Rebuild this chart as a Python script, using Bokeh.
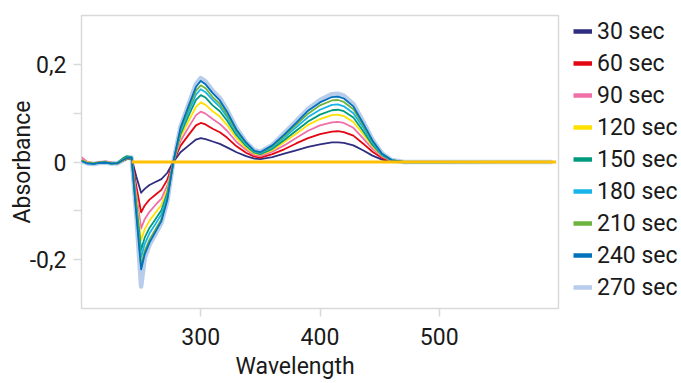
from bokeh.plotting import figure
from bokeh.layouts import row
from bokeh.models import (ColumnDataSource, Legend, LegendItem, FixedTicker,
                          Range1d, Title)
from bokeh.embed import file_html
from bokeh.resources import INLINE

# ---------------- data ----------------
wavelength = [200, 205, 210, 215, 220, 225, 230, 235, 238, 242,
              246, 250, 253, 257, 262, 267, 272, 277,
              283, 290, 296, 300, 304, 310, 316, 322, 330, 338, 345,
              350, 360, 370, 380, 390, 400, 410, 415, 420, 428, 436, 444, 452, 460, 470,
              500, 550, 595]

s30 = [0.004, -0.001, -0.003, -0.002, 0.000, -0.002, -0.003, 0.003, 0.006, 0.007,
       -0.030, -0.063, -0.055, -0.047, -0.041, -0.035, -0.022, 0.000,
       0.020, 0.034, 0.046, 0.049, 0.047, 0.042, 0.037, 0.030, 0.020, 0.012, 0.007,
       0.006, 0.010, 0.017, 0.024, 0.031, 0.036, 0.040, 0.040, 0.039, 0.034, 0.024, 0.013, 0.005, 0.001, 0.000,
       0.000, 0.000, 0.000]
s60 = [0.003, -0.002, -0.003, -0.001, 0.000, -0.002, -0.002, 0.003, 0.007, 0.008,
       -0.050, -0.103, -0.089, -0.077, -0.067, -0.057, -0.036, 0.000,
       0.033, 0.056, 0.075, 0.080, 0.077, 0.068, 0.061, 0.050, 0.032, 0.019, 0.011,
       0.009, 0.016, 0.026, 0.038, 0.049, 0.057, 0.062, 0.063, 0.061, 0.054, 0.038, 0.021, 0.008, 0.002, 0.000,
       0.000, 0.000, 0.000]
s90 = [0.010, 0.000, -0.002, -0.001, 0.001, -0.001, -0.002, 0.004, 0.008, 0.009,
       -0.066, -0.136, -0.117, -0.102, -0.088, -0.075, -0.048, 0.000,
       0.043, 0.072, 0.096, 0.103, 0.099, 0.088, 0.078, 0.064, 0.041, 0.025, 0.014,
       0.012, 0.021, 0.034, 0.049, 0.064, 0.075, 0.081, 0.082, 0.080, 0.070, 0.049, 0.027, 0.011, 0.002, 0.000,
       0.000, 0.000, 0.000]
s120 = [0.004, -0.001, -0.002, -0.002, 0.000, -0.002, -0.003, 0.003, 0.007, 0.008,
        -0.078, -0.160, -0.138, -0.120, -0.104, -0.088, -0.056, 0.000,
        0.051, 0.085, 0.113, 0.122, 0.117, 0.104, 0.093, 0.076, 0.049, 0.029, 0.017,
        0.015, 0.024, 0.041, 0.058, 0.076, 0.088, 0.096, 0.097, 0.094, 0.082, 0.058, 0.032, 0.013, 0.003, 0.000,
        0.000, 0.000, 0.000]
s150 = [0.003, -0.002, -0.003, -0.002, -0.001, -0.004, -0.002, 0.008, 0.012, 0.010,
        -0.088, -0.180, -0.155, -0.135, -0.117, -0.099, -0.063, 0.000,
        0.057, 0.096, 0.127, 0.137, 0.132, 0.116, 0.104, 0.085, 0.055, 0.033, 0.019,
        0.016, 0.027, 0.045, 0.064, 0.083, 0.097, 0.106, 0.107, 0.104, 0.091, 0.064, 0.035, 0.014, 0.003, 0.000,
        0.000, 0.000, 0.000]
s180 = [0.002, -0.003, -0.004, -0.002, -0.001, -0.003, -0.002, 0.005, 0.009, 0.009,
        -0.095, -0.195, -0.168, -0.146, -0.127, -0.107, -0.068, 0.000,
        0.062, 0.104, 0.138, 0.149, 0.143, 0.127, 0.113, 0.092, 0.060, 0.036, 0.021,
        0.018, 0.030, 0.050, 0.071, 0.092, 0.107, 0.117, 0.118, 0.114, 0.100, 0.071, 0.039, 0.015, 0.004, -0.001,
        -0.001, 0.000, 0.000]
s210 = [0.003, -0.002, -0.003, -0.001, 0.000, -0.003, -0.002, 0.005, 0.009, 0.009,
        -0.104, -0.212, -0.182, -0.159, -0.138, -0.117, -0.074, 0.000,
        0.066, 0.110, 0.146, 0.157, 0.151, 0.133, 0.119, 0.097, 0.063, 0.038, 0.022,
        0.019, 0.032, 0.053, 0.076, 0.099, 0.116, 0.126, 0.127, 0.123, 0.108, 0.076, 0.042, 0.017, 0.004, 0.000,
        0.000, 0.000, 0.000]
s240 = [0.002, -0.003, -0.004, -0.002, -0.001, -0.003, -0.003, 0.004, 0.008, 0.009,
        -0.108, -0.220, -0.189, -0.165, -0.143, -0.121, -0.077, 0.000,
        0.070, 0.116, 0.154, 0.166, 0.159, 0.141, 0.126, 0.103, 0.066, 0.040, 0.023,
        0.020, 0.034, 0.056, 0.080, 0.105, 0.122, 0.133, 0.134, 0.130, 0.114, 0.080, 0.044, 0.017, 0.004, 0.000,
        0.000, 0.000, 0.000]
s270 = [0.002, -0.003, -0.004, -0.002, -0.001, -0.003, -0.003, 0.004, 0.008, 0.009,
        -0.110, -0.255, -0.197, -0.170, -0.148, -0.125, -0.080, 0.000,
        0.072, 0.120, 0.160, 0.172, 0.165, 0.146, 0.131, 0.107, 0.069, 0.041, 0.024,
        0.021, 0.035, 0.059, 0.084, 0.109, 0.127, 0.139, 0.140, 0.136, 0.119, 0.084, 0.046, 0.018, 0.004, 0.000,
        0.000, 0.000, 0.000]

series_labels = ["30 sec", "60 sec", "90 sec", "120 sec", "150 sec",
                 "180 sec", "210 sec", "240 sec", "270 sec"]
series_values = [s30, s60, s90, s120, s150, s180, s210, s240, s270]
series_colors = ["#2E2D7F", "#E30613", "#F06FA8", "#FFE100", "#009B7D",
                 "#17B4E9", "#6DB33F", "#0072BC", "#B7CDEB"]

baseline_x = [242, 598]
baseline_y = [0.0, 0.0]

x_ticks = [300, 400, 500]
y_ticks = [-0.2, -0.1, 0.0, 0.1, 0.2]
y_tick_text = {-0.2: "-0,2", -0.1: "", 0.0: "0", 0.1: "", 0.2: "0,2"}

FONT = "Roboto"
TXT = "#1a1a1a"
GREY = "#d9d9d9"

# ---------------- main plot ----------------
p = figure(width=560, height=383, output_backend="svg", toolbar_location=None,
           x_range=Range1d(200, 600), y_range=Range1d(-0.3, 0.3),
           min_border_left=81, min_border_right=2,
           min_border_top=15, min_border_bottom=75)

p.background_fill_color = "white"
p.border_fill_color = "white"
p.outline_line_color = GREY
p.outline_line_width = 1.5
p.xgrid.visible = False
p.ygrid.visible = False

order = [8, 0, 1, 2, 3, 4, 5, 6, 7]
for i in order:
    src = ColumnDataSource(dict(x=wavelength, y=series_values[i]))
    p.line("x", "y", source=src, line_color=series_colors[i],
           line_width=4.5 if i == 8 else 1.8, line_join="round")

p.line(baseline_x, baseline_y, line_color="#FFC000", line_width=3)

for ax in (p.xaxis[0], p.yaxis[0]):
    ax.axis_line_color = None
    ax.major_tick_line_color = GREY
    ax.major_tick_line_width = 1.5
    ax.major_tick_out = 8
    ax.major_tick_in = 0
    ax.minor_tick_line_color = None
    ax.major_label_text_font = FONT
    ax.major_label_text_font_size = "23px"
    ax.major_label_text_color = TXT
    ax.axis_label_text_font = FONT
    ax.axis_label_text_font_size = "23px"
    ax.axis_label_text_font_style = "normal"
    ax.axis_label_text_color = TXT

p.xaxis.ticker = FixedTicker(ticks=x_ticks)
p.xaxis.major_label_standoff = 11

p.yaxis.ticker = FixedTicker(ticks=y_ticks)
p.yaxis.major_label_overrides = y_tick_text
p.yaxis.axis_label = "Absorbance"
p.yaxis.major_label_standoff = 7
p.yaxis.axis_label_standoff = -9

xtitle = Title(text="Wavelength", align="left", offset=154, standoff=6,
               text_font=FONT, text_font_size="23px", text_font_style="normal",
               text_color=TXT)
p.add_layout(xtitle, "below")

# ---------------- legend panel ----------------
q = figure(width=121, height=383, output_backend="svg", toolbar_location=None,
           x_range=Range1d(0, 1), y_range=Range1d(0, 1),
           min_border_left=0, min_border_right=0, min_border_top=0,
           min_border_bottom=0)
q.axis.visible = False
q.xgrid.visible = False
q.ygrid.visible = False
q.outline_line_color = None
q.background_fill_color = "white"
q.border_fill_color = "white"

items = []
for lab, col in zip(series_labels, series_colors):
    r = q.line(x=[-5, -4], y=[-5, -5], line_color=col, line_width=4.5)
    items.append(LegendItem(label=lab, renderers=[r]))

legend = Legend(items=items, location=(13, 5), padding=0, margin=0,
                spacing=0, glyph_width=19, glyph_height=32, label_height=32,
                label_standoff=5, label_text_font=FONT,
                label_text_font_size="23px", label_text_color=TXT,
                border_line_color=None, background_fill_alpha=0)
q.add_layout(legend, "center")

layout = row(p, q)
open("out.html", "w").write(file_html(layout, INLINE))
